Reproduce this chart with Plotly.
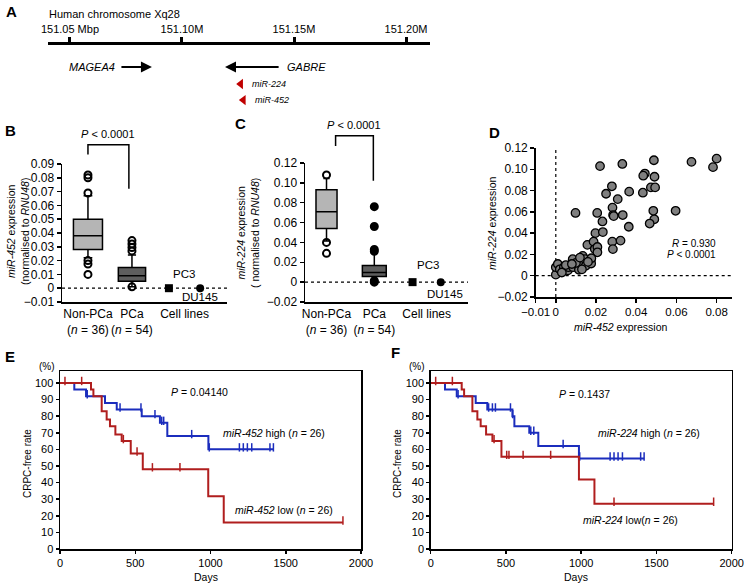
import plotly.graph_objects as go

W, H = 744, 584
FONT = "Liberation Sans, Arial, Helvetica, sans-serif"


def fx(px):
    return px / W


def fy(py):
    return 1 - py / H


# ======================= DATA =======================
# Panel A: genomic map (Mbp)
chrom_ticks = [151.05, 151.10, 151.15, 151.20]
chrom_tick_text = ["151.05 Mbp", "151.10M", "151.15M", "151.20M"]
gene_names = ["MAGEA4", "GABRE"]
gene_tail = [151.0723, 151.1438]
gene_head = [151.0866, 151.1192]
mirna_names = ["miR-224", "miR-452"]
mirna_pos = [151.1262, 151.1274]

# Panels B/C: box plots
groups = ["Non-PCa", "PCa"]
group_n = [36, 54]
cell_lines = ["PC3", "DU145"]

b_q1 = [0.028, 0.005]
b_median = [0.038, 0.009]
b_q3 = [0.050, 0.015]
b_lowfence = [0.022, 0.001]
b_upfence = [0.067, 0.024]
b_out_nonpca = [0.082, 0.080, 0.069, 0.020, 0.0175, 0.010]
b_out_pca = [0.0345, 0.032, 0.0295, 0.027, 0.001]
b_cell = [0.0, 0.0]

c_q1 = [0.054, 0.0057]
c_median = [0.071, 0.0097]
c_q3 = [0.093, 0.0167]
c_lowfence = [0.0415, 0.0015]
c_upfence = [0.1045, 0.029]
c_out_nonpca = [0.108, 0.040, 0.029]
c_out_pca = [0.076, 0.056, 0.033, 0.031, 0.0015, 0.0]
c_cell = [0.0, 0.0]

# Panel D: miR-452 vs miR-224 expression
d_mir452 = [0.0220, 0.0331, 0.0488, 0.0675, 0.0800, 0.0782, 0.0443, 0.0435, 0.0491,
            0.0279, 0.0250, 0.0365, 0.0433, 0.0473, 0.0494, 0.0308, 0.0098, 0.0206,
            0.0282, 0.0285, 0.0288, 0.0333, 0.0232, 0.0363, 0.0485, 0.0596, 0.0490,
            0.0467, 0.0197, 0.0234, 0.0281, 0.0322, 0.0284, 0.0157, 0.0188, 0.0194,
            0.0207, 0.0207,
            0.0000, 0.0000, 0.0010, 0.0020, 0.0040, 0.0060, 0.0063, 0.0086, 0.0084,
            0.0113, 0.0115, 0.0121, 0.0134, 0.0138, 0.0146, 0.0149, 0.0174, 0.0176,
            0.0177, 0.0030, 0.0050, 0.0100, 0.0120, 0.0160, 0.0080, 0.0130]
d_mir224 = [0.103, 0.105, 0.1085, 0.107, 0.110, 0.102, 0.096, 0.094, 0.093,
            0.084, 0.077, 0.079, 0.078, 0.083, 0.083, 0.072, 0.059, 0.059,
            0.064, 0.057, 0.056, 0.057, 0.051, 0.046, 0.061, 0.061, 0.053,
            0.049, 0.040, 0.041, 0.032, 0.033, 0.025, 0.029, 0.032, 0.025,
            0.027, 0.022,
            0.001, 0.008, 0.011, 0.006, 0.008, 0.005, 0.008, 0.008, 0.0155,
            0.0093, 0.0056, 0.014, 0.0186, 0.0109, 0.0155, 0.0093, 0.015, 0.0115,
            0.0164, 0.003, 0.010, 0.012, 0.017, 0.013, 0.011, 0.006]

# Panels E/F: Kaplan-Meier (days, CRPC-free %)
e_high_t = [0, 95, 173, 299, 377, 543, 664, 713, 986, 1418]
e_high_s = [100, 96, 92, 88, 84, 80, 76, 68, 60, 60]
e_high_cens = [181, 399, 538, 631, 676, 689, 875, 992, 1192, 1218, 1245, 1274, 1395, 1418]
e_low_t = [0, 206, 222, 277, 310, 332, 368, 410, 470, 550, 985, 1088, 1880]
e_low_s = [100, 96, 92, 83, 78, 74, 69, 65, 57.5, 48, 31.7, 16, 16]
e_low_cens = [33, 144, 421, 512, 614, 797, 1880]

f_high_t = [0, 95, 173, 299, 376, 543, 556, 655, 715, 985, 1418]
f_high_s = [100, 96, 92, 88, 84, 80, 74, 70, 62, 54.5, 54.5]
f_high_cens = [182, 385, 410, 430, 530, 545, 665, 685, 880, 990, 1192, 1218, 1245,
               1274, 1395, 1418]
f_low_t = [0, 206, 222, 277, 310, 332, 368, 410, 470, 985, 1088, 1880]
f_low_s = [100, 96, 92, 83, 78, 74, 69, 65, 55.5, 41.8, 27.3, 27.3]
f_low_cens = [33, 144, 421, 505, 520, 614, 797, 1218, 1880]

# ======================= STYLE / LAYOUT PARAMS =======================
BLUE = "#1b2dbd"
RED = "#b01e1e"
LIGHT = "#b5b5b5"
DARK = "#5e5e5e"

b_pos = [1, 2]
b_cell_pos = [2.84, 3.55]
b_widths = [0.66, 0.62]
b_xrange = [0.41, 4.16]
b_yrange = [-0.01, 0.09]

c_pos = [1, 2]
c_cell_pos = [2.8, 3.39]
c_widths = [0.44, 0.5]
c_xrange = [0.55, 3.96]
c_yrange = [-0.02, 0.12]

d_xrange = [-0.01, 0.0875]
d_yrange = [-0.02, 0.12]

km_yrange = [0, 107.2]
km_xrange = [0, 2000]

fig = go.Figure()


def ydom(v, rng):
    return (v - rng[0]) / (rng[1] - rng[0])


def num_label(v):
    if abs(v) < 1e-12:
        return "0"
    s = f"{v:.2f}"
    return s.replace("-", "\u2212")


# ---------------- Panel A ----------------
fig.add_trace(go.Scatter(x=mirna_pos, y=[2.0, 2.95], mode="markers",
                         marker=dict(symbol="triangle-left", size=9, color="#c00000"),
                         xaxis="x6", yaxis="y6", showlegend=False, hoverinfo="skip"))

# ---------------- Panels B, C ----------------
def box_panel(xa, ya, pos, widths, q1, med, q3, lo, hi, out_non, out_pca, pca_filled,
              cell_pos, cell_vals):
    fills = [LIGHT, DARK]
    for i in range(2):
        fig.add_trace(go.Box(x=[pos[i]], q1=[q1[i]], median=[med[i]], q3=[q3[i]],
                             lowerfence=[lo[i]], upperfence=[hi[i]], width=widths[i],
                             fillcolor=fills[i], line=dict(color="black", width=1.5),
                             whiskerwidth=0.3, boxpoints=False, xaxis=xa, yaxis=ya,
                             showlegend=False, hoverinfo="skip"))
    fig.add_trace(go.Scatter(x=[pos[0]] * len(out_non), y=out_non, mode="markers",
                             marker=dict(symbol="circle-open", size=7, color="black",
                                         line=dict(width=2)),
                             xaxis=xa, yaxis=ya, showlegend=False, hoverinfo="skip"))
    fig.add_trace(go.Scatter(x=[pos[1]] * len(out_pca), y=out_pca, mode="markers",
                             marker=dict(symbol="circle" if pca_filled else "circle-open",
                                         size=7, color="black",
                                         line=dict(width=2, color="black")),
                             xaxis=xa, yaxis=ya, showlegend=False, hoverinfo="skip"))
    fig.add_trace(go.Scatter(x=[cell_pos[0]], y=[cell_vals[0]], mode="markers",
                             marker=dict(symbol="square", size=8, color="black"),
                             xaxis=xa, yaxis=ya, showlegend=False, hoverinfo="skip"))
    fig.add_trace(go.Scatter(x=[cell_pos[1]], y=[cell_vals[1]], mode="markers",
                             marker=dict(symbol="circle", size=8, color="black"),
                             xaxis=xa, yaxis=ya, showlegend=False, hoverinfo="skip"))


box_panel("x", "y", b_pos, b_widths, b_q1, b_median, b_q3, b_lowfence, b_upfence,
          b_out_nonpca, b_out_pca, False, b_cell_pos, b_cell)
box_panel("x2", "y2", c_pos, c_widths, c_q1, c_median, c_q3, c_lowfence, c_upfence,
          c_out_nonpca, c_out_pca, True, c_cell_pos, c_cell)

# ---------------- Panel D ----------------
fig.add_trace(go.Scatter(x=d_mir452, y=d_mir224, mode="markers",
                         marker=dict(symbol="circle", size=8.5, color="#7f7f7f",
                                     line=dict(color="black", width=1.3)),
                         xaxis="x3", yaxis="y3", showlegend=False, hoverinfo="skip"))

# ---------------- Panels E, F ----------------
def surv_at(t, times, surv):
    val = surv[0]
    for ti, si in zip(times, surv):
        if ti <= t:
            val = si
    return val


def km_panel(xa, ya, t, s, cens, color):
    fig.add_trace(go.Scatter(x=t, y=s, mode="lines", line=dict(color=color, width=2, shape="hv"),
                             xaxis=xa, yaxis=ya, showlegend=False, hoverinfo="skip"))
    fig.add_trace(go.Scatter(x=cens, y=[surv_at(c, t, s) + 1.2 for c in cens], mode="markers",
                             marker=dict(symbol="line-ns", size=6, color=color,
                                         line=dict(color=color, width=1.5)),
                             xaxis=xa, yaxis=ya, showlegend=False, hoverinfo="skip"))


km_panel("x4", "y4", e_high_t, e_high_s, e_high_cens, BLUE)
km_panel("x4", "y4", e_low_t, e_low_s, e_low_cens, RED)
km_panel("x5", "y5", f_high_t, f_high_s, f_high_cens, BLUE)
km_panel("x5", "y5", f_low_t, f_low_s, f_low_cens, RED)

# ======================= AXES =======================
tickfont = dict(family=FONT, size=12, color="black")
km_tickfont = dict(family=FONT, size=11, color="black")
base_ax = dict(showgrid=False, zeroline=False, showline=True, linecolor="black",
               linewidth=1.5, tickfont=tickfont, tickcolor="black", fixedrange=True,
               automargin=False)

b_yticks = [round(-0.01 + 0.01 * i, 2) for i in range(11)]
c_yticks = [round(-0.02 + 0.02 * i, 2) for i in range(8)]
d_xticks = [-0.01, 0, 0.02, 0.04, 0.06, 0.08]
d_yticks = c_yticks

cat_text = [f"{g}<br>(<i>n</i> = {n})" for g, n in zip(groups, group_n)] + ["Cell lines"]

layout_axes = dict(
    xaxis6=dict(domain=[fx(48), fx(430)], anchor="y6", side="top", range=[151.0402, 151.2107],
                showgrid=False, zeroline=False, showline=True, linecolor="black", linewidth=3,
                ticks="outside", ticklen=5, tickwidth=3, tickcolor="black",
                tickvals=chrom_ticks, ticktext=chrom_tick_text, automargin=False,
                tickfont=dict(family=FONT, size=11, color="black"), fixedrange=True),
    yaxis6=dict(domain=[fy(112), fy(45)], anchor="x6", range=[3.65, -0.29], visible=False),

    xaxis=dict(base_ax, domain=[fx(62), fx(227)], anchor="y", range=b_xrange, ticks="",
               tickangle=0, tickvals=b_pos + [sum(b_cell_pos) / 2], ticktext=cat_text),
    yaxis=dict(base_ax, domain=[fy(302), fy(164)], anchor="x", range=b_yrange,
               ticks="outside", ticklen=4, tickwidth=1.5,
               tickvals=b_yticks, ticktext=[num_label(v) for v in b_yticks]),

    xaxis2=dict(base_ax, domain=[fx(305), fx(468)], anchor="y2", range=c_xrange, ticks="",
                tickangle=0, tickvals=c_pos + [sum(c_cell_pos) / 2], ticktext=cat_text),
    yaxis2=dict(base_ax, domain=[fy(302), fy(163)], anchor="x2", range=c_yrange,
                ticks="outside", ticklen=4, tickwidth=1.5,
                tickvals=c_yticks, ticktext=[num_label(v) for v in c_yticks]),

    xaxis3=dict(base_ax, domain=[fx(535.7), fx(731.7)], anchor="y3", range=d_xrange,
                ticks="outside", ticklen=4, tickwidth=1.5, tickangle=0,
                tickfont=dict(family=FONT, size=11.5, color="black"),
                tickvals=d_xticks, ticktext=[num_label(v) for v in d_xticks]),
    yaxis3=dict(base_ax, domain=[fy(297), fy(148)], anchor="x3", range=d_yrange,
                ticks="outside", ticklen=4, tickwidth=1.5,
                tickvals=d_yticks, ticktext=[num_label(v) for v in d_yticks]),

    xaxis4=dict(base_ax, domain=[fx(60), fx(361)], anchor="y4", range=km_xrange, mirror=True,
                ticks="outside", ticklen=3, tickwidth=1.5, tickvals=[0, 500, 1000, 1500, 2000],
                tickfont=km_tickfont, tickangle=0),
    yaxis4=dict(base_ax, domain=[fy(549), fy(371)], anchor="x4", range=km_yrange, mirror=True,
                ticks="outside", ticklen=3, tickwidth=1.5, tickvals=list(range(0, 101, 10)),
                tickfont=km_tickfont),
    xaxis5=dict(base_ax, domain=[fx(430.7), fx(731.7)], anchor="y5", range=km_xrange, mirror=True,
                ticks="outside", ticklen=3, tickwidth=1.5, tickvals=[0, 500, 1000, 1500, 2000],
                tickfont=km_tickfont, tickangle=0),
    yaxis5=dict(base_ax, domain=[fy(549), fy(371)], anchor="x5", range=km_yrange, mirror=True,
                ticks="outside", ticklen=3, tickwidth=1.5, tickvals=list(range(0, 101, 10)),
                tickfont=km_tickfont),
)

# ======================= SHAPES =======================
shapes = []
dot = dict(color="black", width=1.2, dash="dot")
for xa, ya in [("x", "y"), ("x2", "y2")]:
    shapes.append(dict(type="line", xref=f"{xa} domain", x0=0, x1=1, yref=ya, y0=0, y1=0,
                       line=dot, layer="below"))
shapes.append(dict(type="line", xref="x3 domain", x0=0, x1=1, yref="y3", y0=0, y1=0,
                   line=dot, layer="below"))
shapes.append(dict(type="line", xref="x3", x0=0, x1=0, yref="y3 domain", y0=0, y1=1,
                   line=dot, layer="below"))


def bracket(xa, ya, rng, xl, xr, ytop, yl, yr):
    path = (f"M {xl},{ydom(yl, rng)} L {xl},{ydom(ytop, rng)} "
            f"L {xr},{ydom(ytop, rng)} L {xr},{ydom(yr, rng)}")
    shapes.append(dict(type="path", xref=xa, yref=f"{ya} domain", path=path,
                       line=dict(color="black", width=1.5)))


bracket("x", "y", b_yrange, b_pos[0], 1.93, 0.104, 0.0968, 0.072)
bracket("x2", "y2", c_yrange, 1.19, 1.98, 0.1475, 0.137, 0.102)

# ======================= ANNOTATIONS =======================
ann = []


def txt(text, x, y, xref="paper", yref="paper", size=10.5, xanchor="center", yanchor="middle",
        angle=0, bold=False):
    t = f"<b>{text}</b>" if bold else text
    ann.append(dict(text=t, x=x, y=y, xref=xref, yref=yref, showarrow=False,
                    xanchor=xanchor, yanchor=yanchor, textangle=angle,
                    font=dict(family=FONT, size=size, color="black")))


# panel letters
txt("A", fx(4), fy(12), size=15, xanchor="left", bold=True)
txt("B", fx(3), fy(130), size=15, xanchor="left", bold=True)
txt("C", fx(233), fy(124), size=15, xanchor="left", bold=True)
txt("D", fx(487), fy(133), size=15, xanchor="left", bold=True)
txt("E", fx(3), fy(356), size=15, xanchor="left", bold=True)
txt("F", fx(389), fy(352), size=15, xanchor="left", bold=True)

# Panel A texts
txt("Human chromosome Xq28", fx(47), fy(14), size=11, xanchor="left")
txt(f"<i>{gene_names[0]}</i>", gene_tail[0] - 0.0014, 1, "x6", "y6", size=11, xanchor="right")
txt(f"<i>{gene_names[1]}</i>", gene_tail[1] + 0.0022, 1, "x6", "y6", size=11, xanchor="left")
for i in range(2):
    ann.append(dict(x=gene_head[i], y=1, ax=gene_tail[i], ay=1, xref="x6", yref="y6",
                    axref="x6", ayref="y6", showarrow=True, arrowhead=2, arrowsize=1.1,
                    arrowwidth=2, arrowcolor="black", text="", standoff=0, startstandoff=0))
for name, p, r in zip(mirna_names, mirna_pos, [2.0, 2.95]):
    txt(f"<i>{name}</i>", p + 0.0042, r, "x6", "y6", size=9, xanchor="left")

# Panel B texts
txt("<i>miR-452</i> expression<br>(normalised to <i>RNU48</i>)", fx(18), fy(232), angle=-90)
txt("<i>P</i> &lt; 0.0001", (b_pos[0] + 1.93) / 2, ydom(0.1115, b_yrange), "x", "y domain",
    size=11)
txt("PC3", b_cell_pos[0] + 0.05, 0.0105, "x", "y", xanchor="left", size=11.5)
txt("DU145", b_cell_pos[1], -0.0066, "x", "y", size=11.5)

# Panel C texts
txt("<i>miR-224</i> expression<br>( normalised to <i>RNU48</i>)", fx(248), fy(233), angle=-90)
txt("<i>P</i> &lt; 0.0001", (1.19 + 1.98) / 2, ydom(0.1585, c_yrange), "x2", "y2 domain",
    size=11)
txt("PC3", c_cell_pos[0] + 0.05, 0.017, "x2", "y2", xanchor="left", size=11.5)
txt("DU145", c_cell_pos[1] + 0.08, -0.0115, "x2", "y2", size=11.5)

# Panel D texts
txt("<i>miR-224</i> expression", fx(492), fy(223), angle=-90)
txt("<i>miR-452</i> expression", fx(621), fy(327))
txt("<i>R</i> = 0.930", 0.0805, 0.0300, "x3", "y3", size=10, xanchor="right")
txt("<i>P</i> &lt; 0.0001", 0.0805, 0.0197, "x3", "y3", size=10, xanchor="right")

# Panel E/F texts
for x0 in [0, 370]:
    txt("(%)", fx(47 + x0), fy(366), size=10)
    txt("CRPC-free rate", fx(27 + x0), fy(464), angle=-90, size=10)
    txt("Days", fx(206 + x0), fy(577), size=10.5)

txt("<i>P</i> = 0.04140", 930, 94.8, "x4", "y4")
txt("<i>miR-452</i> high (<i>n</i> = 26)", 1420, 70, "x4", "y4")
txt("<i>miR-452</i> low (<i>n</i> = 26)", 1488, 23.5, "x4", "y4")
txt("<i>P</i> = 0.1437", 1025, 93.2, "x5", "y5")
txt("<i>miR-224</i> high (<i>n</i> = 26)", 1450, 70, "x5", "y5")
txt("<i>miR-224</i> low(<i>n</i> = 26)", 1330, 17.5, "x5", "y5")

fig.update_layout(width=W, height=H, autosize=False,
                  margin=dict(l=0, r=0, t=0, b=0, pad=0, autoexpand=False),
                  paper_bgcolor="white", plot_bgcolor="white", boxmode="overlay",
                  font=dict(family=FONT, size=11, color="black"),
                  shapes=shapes, annotations=ann, **layout_axes)

fig.write_html("out.html", config={"displayModeBar": False, "staticPlot": True},
               post_script="document.body.style.margin='0';document.body.style.padding='0';"
                           "document.body.style.overflow='hidden';")
